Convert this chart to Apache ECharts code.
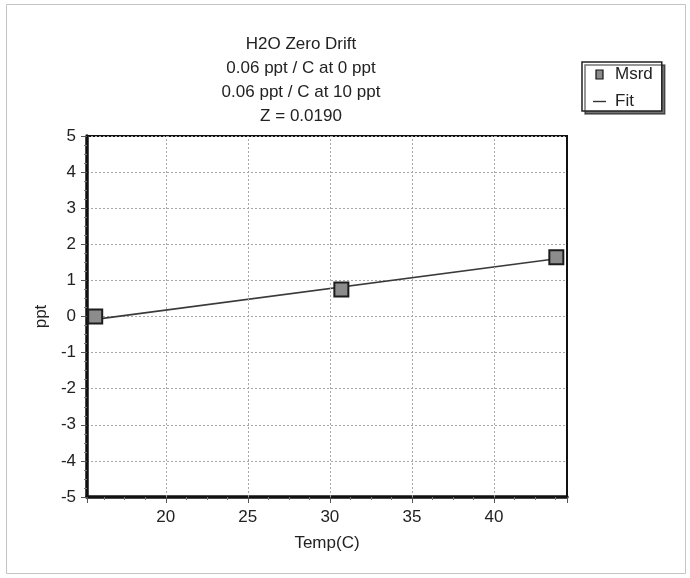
<!DOCTYPE html>
<html>
<head>
<meta charset="utf-8">
<style>
  html, body { margin: 0; padding: 0; background: #fff; }
  #chart { width: 690px; height: 578px; }
</style>
<script src="https://cdn.jsdelivr.net/npm/echarts@6/dist/echarts.min.js"></script>
</head>
<body>
<div id="chart"></div>
<script>
// Measured zero drift vs temperature
const titleLines = ['H2O Zero Drift', '0.06 ppt / C at 0 ppt', '0.06 ppt / C at 10 ppt', 'Z = 0.0190'];
const temps = [15.7, 30.7, 43.8];
const drift = [0.0, 0.75, 1.64];
// Linear fit end points
const fitTemps = [15.7, 43.8];
const fitValues = [-0.08, 1.6];
const xGridValues = [20, 25, 30, 35, 40];

const FONT = '"Liberation Sans", Arial, sans-serif';
const FS = 17;
const chart = echarts.init(document.getElementById('chart'), null, { renderer: 'canvas' });

const gridLine = { show: true, lineStyle: { color: '#a8a8a8', width: 1, type: [2, 2] } };

chart.setOption({
  backgroundColor: '#fff',
  animation: false,
  textStyle: { fontFamily: FONT },
  title: {
    text: titleLines.join('\n'),
    left: 296,
    top: 27,
    textAlign: 'center',
    textStyle: { fontFamily: FONT, fontSize: FS, fontWeight: 'normal', color: '#222', lineHeight: 24 }
  },
  legend: {
    orient: 'vertical',
    left: 582,
    top: 62,
    padding: [4, 9, 1, 11],
    itemGap: 10,
    itemWidth: 13,
    itemHeight: 9,
    borderColor: '#222',
    borderWidth: 1.5,
    backgroundColor: '#fff',
    shadowColor: 'rgba(0,0,0,0.55)',
    shadowBlur: 0,
    shadowOffsetX: 3,
    shadowOffsetY: 3,
    textStyle: { fontFamily: FONT, fontSize: FS, color: '#222', lineHeight: 15, padding: [0, 0, 0, 4] },
    data: [
      { name: 'Msrd', icon: 'path://M0,0 H7 V9 H0 Z', itemStyle: { color: '#8a8a8a', borderColor: '#111', borderWidth: 1.2 } },
      { name: 'Fit', icon: 'path://M0,0 H13 V1.4 H0 Z', itemStyle: { color: '#333' } }
    ]
  },
  graphic: [{
    type: 'rect',
    shape: { x: 6.5, y: 4.5, width: 679, height: 569 },
    style: { fill: 'none', stroke: '#c4c4c4', lineWidth: 1 },
    silent: true,
    z: -10
  }],
  grid: {
    left: 87, right: 123, top: 136, bottom: 81,
    show: true, borderColor: '#111', borderWidth: 2, backgroundColor: 'transparent',
    containLabel: false
  },
  xAxis: {
    type: 'value',
    min: 15.2,
    max: 44.45,
    name: 'Temp(C)',
    nameLocation: 'middle',
    nameGap: 38,
    nameTextStyle: { fontFamily: FONT, fontSize: FS, color: '#222' },
    axisLine: { show: true, onZero: false, lineStyle: { color: '#111', width: 3.5 } },
    axisTick: { show: true, length: 6, lineStyle: { color: '#555', width: 1 } },
    minorTick: { show: true, splitNumber: 4, length: 3, lineStyle: { color: '#777', width: 1 } },
    axisLabel: {
      fontFamily: FONT, fontSize: FS, color: '#222', margin: 12,
      formatter: v => (xGridValues.indexOf(Math.round(v * 1000) / 1000) >= 0 ? String(v) : '')
    },
    splitLine: { show: false }
  },
  yAxis: {
    type: 'value',
    min: -5,
    max: 5,
    interval: 1,
    name: 'ppt',
    nameLocation: 'middle',
    nameGap: 36,
    nameTextStyle: { fontFamily: FONT, fontSize: FS, color: '#222' },
    axisLine: { show: true, onZero: false, lineStyle: { color: '#111', width: 3.5 } },
    axisTick: { show: true, length: 6, lineStyle: { color: '#555', width: 1 } },
    minorTick: { show: true, splitNumber: 4, length: 3, lineStyle: { color: '#777', width: 1 } },
    axisLabel: { fontFamily: FONT, fontSize: FS, color: '#222', margin: 11 },
    splitLine: gridLine
  },
  series: [
    {
      name: 'Fit',
      type: 'line',
      data: fitTemps.map((t, i) => [t, fitValues[i]]),
      showSymbol: false,
      symbol: 'none',
      lineStyle: { color: '#3a3a3a', width: 1.6 },
      z: 3,
      markLine: {
        silent: true,
        symbol: 'none',
        label: { show: false },
        lineStyle: { color: '#a8a8a8', width: 1, type: [2, 2] },
        data: xGridValues.map(v => ({ xAxis: v }))
      }
    },
    {
      name: 'Msrd',
      type: 'scatter',
      data: temps.map((t, i) => [t, drift[i]]),
      symbol: 'rect',
      symbolSize: 14,
      itemStyle: { color: '#8c8c8c', borderColor: '#1c1c1c', borderWidth: 2, opacity: 1 },
      z: 4
    }
  ]
});
</script>
</body>
</html>
